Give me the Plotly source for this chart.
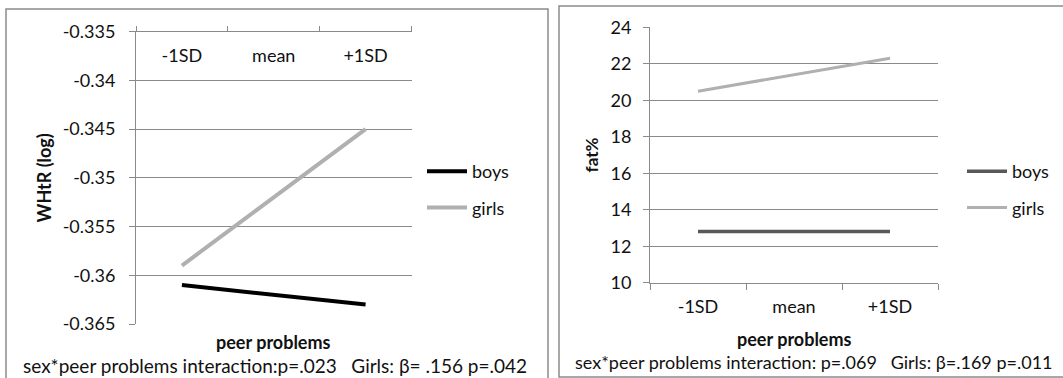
import plotly.graph_objects as go

# Peer-problem levels on the category axis
levels = ["-1SD", "mean", "+1SD"]

# Panel 1: WHtR (log) by sex
whtr_boys = [-0.361, -0.362, -0.363]
whtr_girls = [-0.359, -0.352, -0.345]
whtr_ticks = [-0.365, -0.36, -0.355, -0.35, -0.345, -0.34, -0.335]
whtr_ticktext = ["-0.365", "-0.36", "-0.355", "-0.35", "-0.345", "-0.34", "-0.335"]

# Panel 2: body fat % by sex
fat_boys = [12.8, 12.8, 12.8]
fat_girls = [20.5, 21.4, 22.3]
fat_ticks = [10, 12, 14, 16, 18, 20, 22, 24]

W, H = 1063, 378
FONT = "Lato"
GRID = "#8a8a8a"
TXT = "#111111"
FS = 18
NB = "\u00a0"


def px(x):
    return x / W


def py(y):
    return 1 - y / H


fig = go.Figure()

# WHtR panel: boys on the top axis (line + ticks), girls on its label twin
fig.add_trace(go.Scatter(x=levels, y=whtr_boys, mode="lines", name="boys",
                         line=dict(color="#000000", width=4),
                         xaxis="x", yaxis="y", legend="legend", legendgroup="b1"))
fig.add_trace(go.Scatter(x=levels, y=whtr_girls, mode="lines", name="girls",
                         line=dict(color="#b0b0b0", width=4),
                         xaxis="x3", yaxis="y", legend="legend", legendgroup="g1"))
fig.add_trace(go.Scatter(x=levels, y=fat_boys, mode="lines", name="boys",
                         line=dict(color="#595959", width=3.5),
                         xaxis="x2", yaxis="y2", legend="legend2", legendgroup="b2"))
fig.add_trace(go.Scatter(x=levels, y=fat_girls, mode="lines", name="girls",
                         line=dict(color="#b0b0b0", width=3),
                         xaxis="x2", yaxis="y2", legend="legend2", legendgroup="g2"))

axis_font = dict(family=FONT, size=FS, color=TXT)
left_dom = [px(136), px(411.5)]

fig.update_layout(
    width=W, height=H,
    margin=dict(l=0, r=0, t=0, b=0, autoexpand=False),
    paper_bgcolor="white", plot_bgcolor="white",
    font=dict(family=FONT, size=FS, color=TXT),
    # top category axis of the WHtR panel: line and boundary ticks
    xaxis=dict(domain=left_dom, anchor="y", side="top",
               type="category", categoryarray=levels, tickson="boundaries",
               ticks="outside", ticklen=5, tickcolor=GRID, showline=True,
               linecolor=GRID, linewidth=1, showgrid=False,
               showticklabels=False, range=[-0.5, 2.5], automargin=False),
    # same categories, used for the labels just under the top axis
    xaxis3=dict(overlaying="x", anchor="free", position=py(43), side="bottom",
                type="category", categoryarray=levels, range=[-0.5, 2.5],
                ticks="", showline=False, showgrid=False, zeroline=False,
                tickfont=axis_font, ticklabelstandoff=0, automargin=False),
    yaxis=dict(domain=[py(324), py(31.7)], anchor="x",
               range=[-0.365, -0.335], tickvals=whtr_ticks,
               ticktext=whtr_ticktext, ticks="outside", ticklen=6,
               tickcolor=GRID, showline=True, linecolor=GRID, linewidth=1,
               gridcolor=GRID, gridwidth=1, zeroline=False,
               tickfont=axis_font, ticklabelstandoff=10, automargin=False,
               title=dict(text="<b>WHtR (log)</b>", standoff=6,
                          font=dict(family=FONT, size=18, color=TXT))),
    xaxis2=dict(domain=[px(650), px(938)], anchor="y2", side="bottom",
                type="category", tickson="boundaries", ticks="outside",
                ticklen=6, tickcolor=GRID, showline=True, linecolor=GRID,
                linewidth=1, showgrid=False, tickfont=axis_font,
                ticklabelstandoff=8, range=[-0.5, 2.5], automargin=False),
    yaxis2=dict(domain=[py(282.7), py(27.3)], anchor="x2",
                range=[10, 24], tickvals=fat_ticks, ticks="outside",
                ticklen=6, tickcolor=GRID, showline=True, linecolor=GRID,
                linewidth=1, gridcolor=GRID, gridwidth=1, zeroline=False,
                tickfont=axis_font, ticklabelstandoff=8, automargin=False,
                title=dict(text="<b>fat%</b>", standoff=7,
                           font=dict(family=FONT, size=17, color=TXT))),
    legend=dict(x=px(422), y=py(153), xanchor="left", yanchor="top",
                bgcolor="rgba(0,0,0,0)", itemwidth=40, tracegroupgap=10,
                font=dict(family=FONT, size=FS, color=TXT)),
    legend2=dict(x=px(962), y=py(153), xanchor="left", yanchor="top",
                 bgcolor="rgba(0,0,0,0)", itemwidth=40, tracegroupgap=10,
                 font=dict(family=FONT, size=FS, color=TXT)),
    showlegend=True,
)

# Panel frames
fig.add_shape(type="rect", xref="paper", yref="paper",
              x0=px(6), x1=px(548), y0=py(400), y1=py(9),
              line=dict(color="#8c8c8c", width=1.5), layer="below")
fig.add_shape(type="rect", xref="paper", yref="paper",
              x0=px(559), x1=px(1075), y0=py(377), y1=py(6),
              line=dict(color="#8c8c8c", width=1.5), layer="below")

# X-axis titles and footnotes
notes = [
    (273, 342, "<b>peer problems</b>", "center", FS),
    (794, 339, "<b>peer problems</b>", "center", FS),
    (21, 365, f"sex*peer problems interaction:p=.023{NB*3}Girls: β={NB}.156 p=.042", "left", 19),
    (573, 362, f"sex*peer problems interaction: p=.069{NB*3}Girls: β=.169 p=.011", "left", FS),
]
for x, y, t, anchor, size in notes:
    fig.add_annotation(x=px(x), y=py(y), xref="paper", yref="paper",
                       text=t, showarrow=False, xanchor=anchor,
                       yanchor="middle", font=dict(family=FONT, size=size, color=TXT))

fig.write_html("out.html")
